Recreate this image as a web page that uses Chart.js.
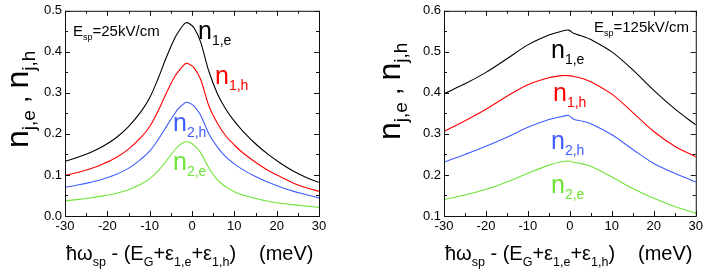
<!DOCTYPE html>
<html>
<head>
<meta charset="UTF-8">
<title>n_j,e , n_j,h</title>
<script src="https://cdn.jsdelivr.net/npm/chart.js"></script>
<style>
    body { margin: 0; background: #fff; }
    #wrap { position: relative; width: 706px; height: 271px; }
    canvas { position: absolute; top: 0; }
</style>
</head>
<body>
<div id="wrap">
    <canvas id="left" width="353" height="271" style="left:0"></canvas>
    <canvas id="right" width="353" height="271" style="left:353px"></canvas>
</div>
<script>
// E_sp = 25 kV/cm
const xs25 = [-30,-27,-24,-21,-18,-15,-12,-10,-8,-6,-4,-3,-2,-1.4,-0.5,0.5,2,4,6,8,10,12,15,18,21,24,27,30];
const n1e25 = [0.133,0.143,0.155,0.170,0.190,0.218,0.255,0.288,0.335,0.388,0.435,0.452,0.466,0.471,0.468,0.458,0.425,0.352,0.298,0.260,0.231,0.207,0.176,0.150,0.128,0.109,0.094,0.082];
const n1h25 = [0.099,0.106,0.115,0.127,0.142,0.163,0.192,0.218,0.256,0.301,0.341,0.355,0.367,0.372,0.369,0.361,0.334,0.268,0.226,0.195,0.173,0.154,0.131,0.111,0.095,0.080,0.069,0.060];
const n2h25 = [0.070,0.0755,0.082,0.090,0.101,0.116,0.139,0.158,0.186,0.219,0.251,0.264,0.273,0.277,0.275,0.268,0.246,0.200,0.168,0.144,0.127,0.113,0.096,0.082,0.070,0.060,0.052,0.044];
const n2e25 = [0.037,0.040,0.044,0.049,0.055,0.064,0.078,0.091,0.110,0.135,0.162,0.172,0.179,0.181,0.179,0.172,0.155,0.117,0.088,0.071,0.059,0.051,0.043,0.036,0.031,0.027,0.024,0.021];

// E_sp = 125 kV/cm
const xs125 = [-30,-25,-20,-15,-10,-5,-2,-0.3,0.9,3,5,10,15,20,25,30];
const n1e125 = [0.398,0.422,0.450,0.483,0.517,0.541,0.550,0.553,0.545,0.538,0.530,0.500,0.456,0.406,0.361,0.322];
const n1h125 = [0.306,0.332,0.360,0.392,0.420,0.437,0.442,0.442,0.440,0.435,0.427,0.397,0.352,0.306,0.270,0.244];
const n2h125 = [0.231,0.250,0.270,0.292,0.316,0.335,0.342,0.345,0.336,0.331,0.325,0.298,0.262,0.228,0.204,0.183];
const n2e125 = [0.140,0.151,0.165,0.183,0.204,0.224,0.232,0.234,0.231,0.227,0.221,0.195,0.167,0.143,0.123,0.107];

const xTicks = [-30,-20,-10,0,10,20,30];
const yTicks25 = [0.0,0.1,0.2,0.3,0.4,0.5];
const yTicks125 = [0.1,0.2,0.3,0.4,0.5,0.6];

const BLACK = '#000000', RED = '#ff0000', BLUE = '#3f5cff', GREEN = '#6ee436';

function pts(xs, ys) {
    return xs.map((x, i) => ({ x: x, y: ys[i] }));
}

function line(xs, ys, color) {
    return {
        data: pts(xs, ys),
        borderColor: color,
        borderWidth: 1.1,
        pointRadius: 0,
        tension: 0.35,
        fill: false
    };
}

// draws text made of normal and subscript pieces
function drawRich(ctx, x, y, t) {
    let cx = x;
    t.parts.forEach(p => {
        const isSub = p[1];
        const size = p[2] || (isSub ? t.sub : t.size);
        ctx.font = size + 'px "Liberation Sans", Arial, sans-serif';
        ctx.fillText(p[0], cx, isSub ? y + t.dy : y);
        cx += ctx.measureText(p[0]).width;
    });
}

const frame = {
    id: 'frame',
    afterDraw(chart, args, o) {
        const ctx = chart.ctx;
        const a = chart.chartArea;
        const x = chart.scales.x, y = chart.scales.y;
        ctx.save();
        ctx.strokeStyle = '#111';
        ctx.lineWidth = 1;
        ctx.strokeRect(a.left + 0.5, a.top + 0.5, a.width, a.height);
        ctx.beginPath();
        for (let v = x.min; v <= x.max + 1e-9; v += 5) {
            const px = Math.round(x.getPixelForValue(v)) + 0.5;
            const len = Math.round(v) % 10 === 0 ? 5 : 3;
            ctx.moveTo(px, a.bottom); ctx.lineTo(px, a.bottom - len);
            ctx.moveTo(px, a.top); ctx.lineTo(px, a.top + len);
        }
        for (let i = 0; i <= 10; i++) {
            const v = y.min + i * 0.05;
            const py = Math.round(y.getPixelForValue(v)) + 0.5;
            const len = i % 2 === 0 ? 5 : 3;
            ctx.moveTo(a.left, py); ctx.lineTo(a.left + len, py);
            ctx.moveTo(a.right, py); ctx.lineTo(a.right - len, py);
        }
        ctx.stroke();

        ctx.textBaseline = 'alphabetic';
        ctx.textAlign = 'left';
        o.texts.forEach(t => {
            ctx.fillStyle = t.color || '#000';
            if (t.rot) {
                ctx.save();
                ctx.translate(t.x, t.y);
                ctx.rotate(-Math.PI / 2);
                drawRich(ctx, 0, 0, t);
                ctx.restore();
            } else {
                drawRich(ctx, t.x, t.y, t);
            }
        });
        ctx.restore();
    }
};

const xTitle = [['\u0127\u03c9', 0], ['sp', 1], [' - (E', 0], ['G', 1], ['+\u03b5', 0], ['1,e', 1], ['+\u03b5', 0], ['1,h', 1], [')', 0]];
const yTitle = [['n', 0], ['j,e', 1], [' , ', 0, 26], ['n', 0], ['j,h', 1]];

function makeChart(id, xs, series, yMin, yMax, yTicks, yWidth, padRight, texts) {
    const colors = [BLACK, RED, BLUE, GREEN];
    return new Chart(document.getElementById(id), {
        type: 'line',
        data: { datasets: series.map((s, i) => line(xs, s, colors[i])) },
        options: {
            responsive: false,
            animation: false,
            layout: { padding: { top: 10, right: padRight, left: 0, bottom: 0 } },
            plugins: { legend: { display: false }, tooltip: { enabled: false }, frame: { texts: texts } },
            scales: {
                x: {
                    type: 'linear', min: -30, max: 30,
                    afterFit: s => { s.height = 55; },
                    afterBuildTicks: s => { s.ticks = xTicks.map(v => ({ value: v })); },
                    grid: { display: false, drawTicks: false },
                    border: { display: false },
                    ticks: { color: '#000', padding: 3, maxRotation: 0, font: { size: 13, family: '"Liberation Sans", Arial' },
                             callback: v => String(v) }
                },
                y: {
                    type: 'linear', min: yMin, max: yMax,
                    afterFit: s => { s.width = yWidth; },
                    afterBuildTicks: s => { s.ticks = yTicks.map(v => ({ value: v })); },
                    grid: { display: false, drawTicks: false },
                    border: { display: false },
                    ticks: { color: '#000', padding: 3, font: { size: 13, family: '"Liberation Sans", Arial' },
                             callback: v => Number(v).toFixed(1) }
                }
            }
        },
        plugins: [frame]
    });
}

makeChart('left', xs25, [n1e25, n1h25, n2h25, n2e25], 0, 0.5, yTicks25, 65, 34, [
    { parts: [['E', 0], ['sp', 1], ['=25kV/cm', 0]], x: 73, y: 36, size: 15, sub: 9, dy: 4 },
    { parts: [['n', 0], ['1,e', 1]], x: 198, y: 39, size: 25, sub: 14, dy: 6, color: BLACK },
    { parts: [['n', 0], ['1,h', 1]], x: 215, y: 84, size: 25, sub: 14, dy: 6, color: RED },
    { parts: [['n', 0], ['2,h', 1]], x: 173, y: 131, size: 25, sub: 14, dy: 6, color: BLUE },
    { parts: [['n', 0], ['2,e', 1]], x: 173, y: 170, size: 25, sub: 14, dy: 6, color: GREEN },
    { parts: xTitle, x: 66, y: 260, size: 20, sub: 12.5, dy: 6 },
    { parts: [['(meV)', 0]], x: 259, y: 260, size: 20, sub: 12, dy: 6 },
    { parts: yTitle, x: 28, y: 148, size: 32, sub: 19, dy: 7, rot: true }
]);

makeChart('right', xs125, [n1e125, n1h125, n2h125, n2e125], 0.1, 0.6, yTicks125, 91, 9, [
    { parts: [['E', 0], ['sp', 1], ['=125kV/cm', 0]], x: 241, y: 32, size: 15, sub: 9, dy: 4 },
    { parts: [['n', 0], ['1,e', 1]], x: 198, y: 58, size: 25, sub: 14, dy: 6, color: BLACK },
    { parts: [['n', 0], ['1,h', 1]], x: 200, y: 101, size: 25, sub: 14, dy: 6, color: RED },
    { parts: [['n', 0], ['2,h', 1]], x: 198, y: 149, size: 25, sub: 14, dy: 6, color: BLUE },
    { parts: [['n', 0], ['2,e', 1]], x: 198, y: 193, size: 25, sub: 14, dy: 6, color: GREEN },
    { parts: xTitle, x: 92, y: 260, size: 20, sub: 12.5, dy: 6 },
    { parts: [['(meV)', 0]], x: 285, y: 260, size: 20, sub: 12, dy: 6 },
    { parts: yTitle, x: 47, y: 140, size: 32, sub: 19, dy: 7, rot: true }
]);
</script>
</body>
</html>
